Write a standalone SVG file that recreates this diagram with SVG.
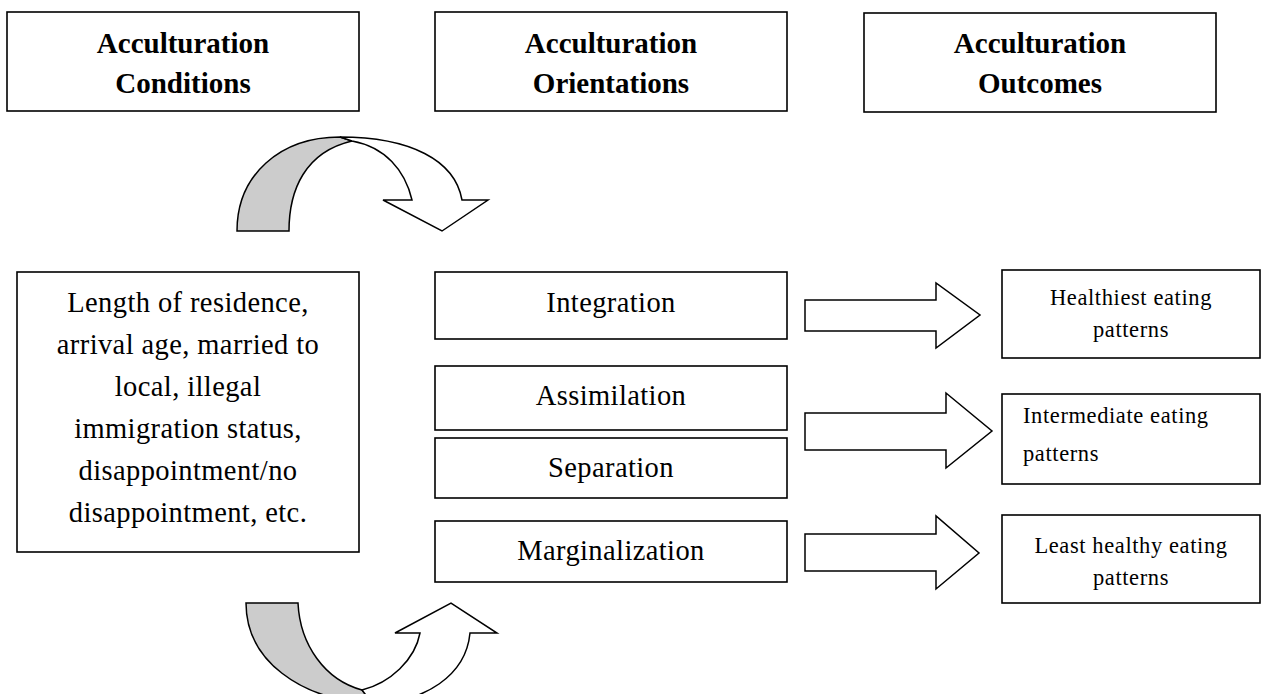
<svg xmlns="http://www.w3.org/2000/svg" width="1262" height="694" viewBox="0 0 1262 694">
  <style>
    .box { fill: #ffffff; stroke: #000000; stroke-width: 1.6; }
    .title { font-family: "Liberation Serif", "Times New Roman", serif; font-weight: bold; font-size: 29px; fill: #000; text-anchor: middle; }
    .body { font-family: "Liberation Serif", "Times New Roman", serif; font-size: 28.5px; letter-spacing: 0.4px; fill: #000; text-anchor: middle; }
    .small { font-family: "Liberation Serif", "Times New Roman", serif; font-size: 22.5px; letter-spacing: 0.6px; fill: #000; text-anchor: middle; }
    .left { text-anchor: start; }
    .block { fill: #ffffff; stroke: #000000; stroke-width: 1.5; stroke-linejoin: miter; }
    .shade { fill: #cccccc; stroke: #000000; stroke-width: 1.5; }
  </style>

  <!-- column headers -->
  <g id="hdr-conditions">
    <rect class="box" x="7" y="12" width="352" height="99"/>
    <text class="title" x="183" y="53">Acculturation</text>
    <text class="title" x="183" y="93">Conditions</text>
  </g>
  <g id="hdr-orientations">
    <rect class="box" x="435" y="12" width="352" height="99"/>
    <text class="title" x="611" y="53">Acculturation</text>
    <text class="title" x="611" y="93">Orientations</text>
  </g>
  <g id="hdr-outcomes">
    <rect class="box" x="864" y="13" width="352" height="99"/>
    <text class="title" x="1040" y="53">Acculturation</text>
    <text class="title" x="1040" y="93">Outcomes</text>
  </g>

  <!-- conditions -->
  <g id="conditions">
    <rect class="box" x="17" y="272" width="342" height="280"/>
    <text class="body" x="188" y="312">Length of residence,</text>
    <text class="body" x="188" y="354">arrival age, married to</text>
    <text class="body" x="188" y="396">local, illegal</text>
    <text class="body" x="188" y="438">immigration status,</text>
    <text class="body" x="188" y="480">disappointment/no</text>
    <text class="body" x="188" y="522">disappointment, etc.</text>
  </g>

  <!-- orientations -->
  <g id="integration">
    <rect class="box" x="435" y="272" width="352" height="67"/>
    <text class="body" x="611" y="312">Integration</text>
  </g>
  <g id="assimilation">
    <rect class="box" x="435" y="366" width="352" height="64"/>
    <text class="body" x="611" y="405">Assimilation</text>
  </g>
  <g id="separation">
    <rect class="box" x="435" y="438" width="352" height="60"/>
    <text class="body" x="611" y="477">Separation</text>
  </g>
  <g id="marginalization">
    <rect class="box" x="435" y="521" width="352" height="61"/>
    <text class="body" x="611" y="560">Marginalization</text>
  </g>

  <!-- outcomes -->
  <g id="healthiest">
    <rect class="box" x="1002" y="270" width="258" height="88"/>
    <text class="small" x="1131" y="305">Healthiest eating</text>
    <text class="small" x="1131" y="337">patterns</text>
  </g>
  <g id="intermediate">
    <rect class="box" x="1002" y="394" width="258" height="90"/>
    <text class="small left" x="1023" y="423">Intermediate eating</text>
    <text class="small left" x="1023" y="461">patterns</text>
  </g>
  <g id="least-healthy">
    <rect class="box" x="1002" y="515" width="258" height="88"/>
    <text class="small" x="1131" y="553">Least healthy eating</text>
    <text class="small" x="1131" y="585">patterns</text>
  </g>

  <!-- connectors -->
  <g id="connectors">
    <!-- curved arrow over the top, into the orientations column -->
    <path class="shade" d="M237,231 C237,175 280,137 340,137 L352,141 C305,152 289,190 289,231 Z"/>
    <path class="block" d="M340,137 C410,137 455,160 462,200 L488,200 L442,231 L383,200 L412,200 C405,170 385,147 352,141 Z"/>

    <!-- curved arrow underneath, up into the orientations column -->
    <path class="shade" d="M246,603 L298,603 C300,645 325,680 362,690 L372,703 C300,700 246,660 246,603 Z"/>
    <path class="block" d="M362,690 C390,683 415,660 420,633 L395,633 L451,603 L497,633 L470,633 C466,675 425,703 372,703 Z"/>

    <!-- block arrows: orientations to outcomes -->
    <path class="block" d="M805,300 L936,300 L936,283 L980,315 L936,348 L936,331 L805,331 Z"/>
    <path class="block" d="M805,413 L946,413 L946,393 L992,431 L946,468 L946,450 L805,450 Z"/>
    <path class="block" d="M805,534 L936,534 L936,516 L979,553 L936,589 L936,571 L805,571 Z"/>
  </g>
</svg>
